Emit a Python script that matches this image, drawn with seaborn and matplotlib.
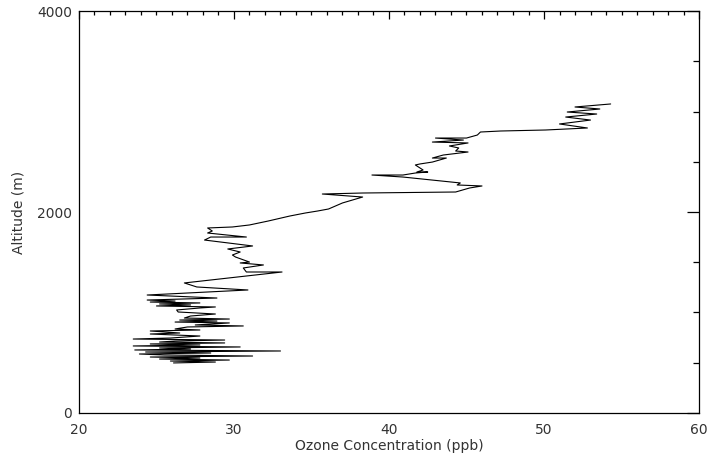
#!/usr/bin/env python3
"""Ozone profile: altitude vs ozone concentration (IDL-style plot)"""

import matplotlib
matplotlib.use("Agg")
import matplotlib.pyplot as plt
from matplotlib.ticker import MultipleLocator
import pandas as pd
import seaborn as sns

# values, in flight order (bottom to top)
ozone_ppb = [
    26.1, 28.8, 25.9, 29.7, 25.2, 27.8, 24.6, 31.2, 25.5, 23.9,
    28.5, 24.3, 33.0, 23.6, 27.2, 25.2, 30.4, 23.5, 27.8, 24.6,
    29.4, 25.2, 26.2, 29.4, 23.5, 25.9, 27.8, 24.6, 26.5, 24.6,
    27.8, 26.2, 27.0, 30.6, 27.5, 29.7, 26.2, 28.9, 26.5, 29.7,
    26.8, 27.2, 28.8, 26.4, 26.3, 27.8, 28.8, 25.0, 27.2, 25.2,
    27.8, 24.6, 26.2, 24.4, 28.9, 24.4, 30.9, 27.6, 26.8, 33.1,
    30.8, 30.6, 31.9, 30.4, 31.0, 30.1, 29.9, 30.4, 29.6, 31.2,
    28.1, 28.5, 30.8, 28.3, 28.6, 28.3, 29.9, 31.0, 32.2, 33.6,
    34.6, 35.4, 36.1, 37.0, 38.3, 35.7, 38.3, 44.3, 45.2, 46.0,
    44.4, 44.6, 40.9, 38.9, 40.9, 41.7, 42.5, 41.8, 42.2, 41.7,
    42.0, 42.8, 43.7, 42.8, 43.5, 45.1, 44.3, 44.5, 43.9, 45.1,
    42.8, 44.8, 43.0, 45.0, 45.7, 45.9, 47.2, 50.1, 52.8, 51.0,
    53.0, 51.4, 53.4, 51.5, 53.6, 52.0, 54.3,
]
altitude_m = [
    498, 507, 517, 527, 537, 547, 557, 567, 577, 587,
    597, 607, 617, 627, 637, 647, 657, 667, 677, 687,
    697, 706, 716, 726, 736, 746, 766, 786, 796, 816,
    826, 836, 856, 866, 876, 896, 905, 915, 925, 935,
    945, 965, 985, 1005, 1025, 1045, 1055, 1065, 1075, 1085,
    1095, 1104, 1114, 1124, 1144, 1174, 1224, 1254, 1294, 1403,
    1403, 1443, 1473, 1493, 1502, 1552, 1572, 1602, 1632, 1662,
    1721, 1751, 1751, 1791, 1811, 1841, 1851, 1871, 1910, 1960,
    1990, 2010, 2030, 2090, 2149, 2179, 2189, 2199, 2239, 2259,
    2269, 2289, 2348, 2368, 2368, 2388, 2398, 2398, 2418, 2468,
    2478, 2497, 2537, 2537, 2567, 2597, 2607, 2637, 2657, 2687,
    2696, 2716, 2736, 2736, 2766, 2796, 2806, 2816, 2836, 2876,
    2915, 2945, 2975, 2995, 3025, 3045, 3075,
]

x_ticks = [20, 30, 40, 50, 60]
y_ticks = [0, 2000, 4000]

df = pd.DataFrame({"ozone": ozone_ppb, "alt": altitude_m})

sns.set_style("white")
plt.rcParams["font.family"] = ["DejaVu Sans"]
text_col = "#333333"

fig = plt.figure(figsize=(7.07, 4.57), dpi=100)
ax = fig.add_axes([0.1117, 0.0963, 0.877, 0.8796])

sns.lineplot(data=df, x="ozone", y="alt", sort=False, estimator=None,
             color="black", linewidth=0.8, ax=ax)

ax.set_xlim(20, 60)
ax.set_ylim(0, 4000)
ax.set_xticks(x_ticks)
ax.set_yticks(y_ticks)
ax.xaxis.set_minor_locator(MultipleLocator(1))
ax.yaxis.set_minor_locator(MultipleLocator(500))

for s in ax.spines.values():
    s.set_visible(True)
    s.set_color("black")
    s.set_linewidth(0.9)

ax.tick_params(which="both", direction="in", top=True, right=True,
               colors="black", labelcolor=text_col, labelsize=10, width=0.9)
ax.tick_params(axis="x", which="major", length=5.8, pad=7)
ax.tick_params(axis="x", which="minor", length=2.9)
ax.tick_params(axis="y", which="major", length=9, pad=5)
ax.tick_params(axis="y", which="minor", length=4.5)

ax.set_xlabel("Ozone Concentration (ppb)", fontsize=10, color=text_col,
              labelpad=2)
ax.set_ylabel("Altitude (m)", fontsize=10, color=text_col, labelpad=8)

fig.savefig("out.png", dpi=100)
